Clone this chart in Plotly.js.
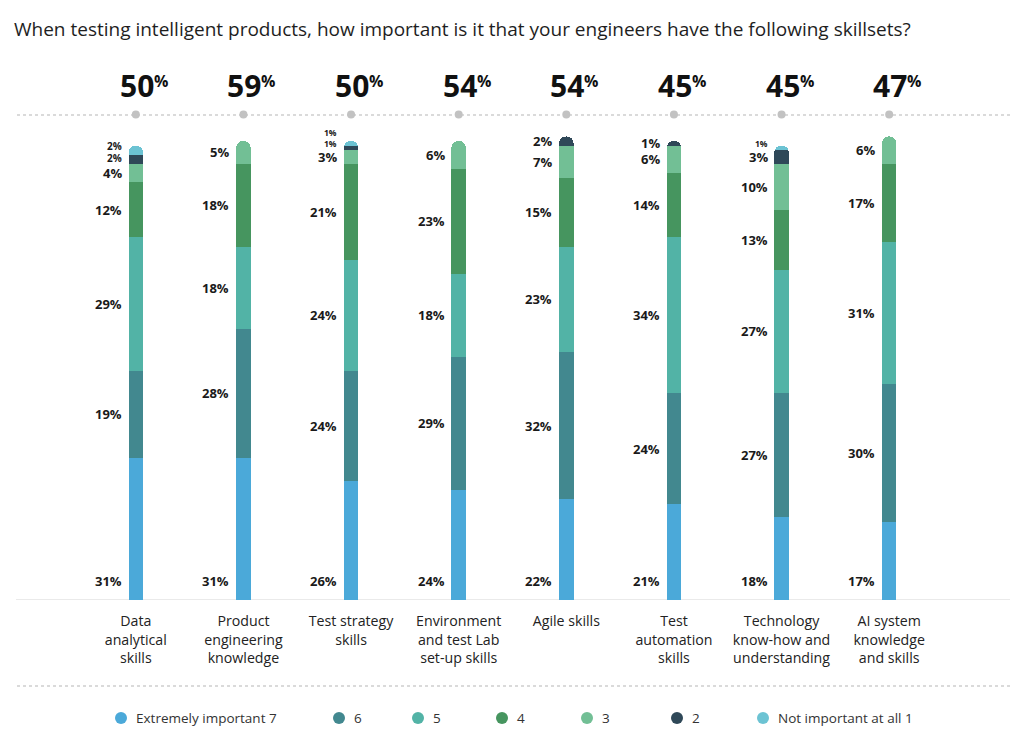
<!DOCTYPE html>
<html>
<head>
<meta charset="utf-8">
<script src="https://cdn.plot.ly/plotly-3.0.1.min.js"></script>
<style>
  html, body { margin: 0; padding: 0; background: #ffffff; }
  #chart { width: 1024px; height: 744px; }
</style>
</head>
<body>
<div id="chart"></div>
<script>
// ---------- DATA ----------
const categories = [
  'Data<br>analytical<br>skills',
  'Product<br>engineering<br>knowledge',
  'Test strategy<br>skills',
  'Environment<br>and test Lab<br>set-up skills',
  'Agile skills',
  'Test<br>automation<br>skills',
  'Technology<br>know-how and<br>understanding',
  'AI system<br>knowledge<br>and skills'
];
const topTotals = [50, 59, 50, 54, 54, 45, 45, 47];

const seriesNames = ['Extremely important 7', '6', '5', '4', '3', '2', 'Not important at all 1'];
const s7 = [31, 31, 26, 24, 22, 21, 18, 17];
const s6 = [19, 28, 24, 29, 32, 24, 27, 30];
const s5 = [29, 18, 24, 18, 23, 34, 27, 31];
const s4 = [12, 18, 21, 23, 15, 14, 13, 17];
const s3 = [4, 5, 3, 6, 7, 6, 10, 6];
const s2 = [2, 0, 1, 0, 2, 1, 3, 0];
const s1 = [2, 0, 1, 0, 0, 0, 1, 0];

const seriesColors = ['#4ba9d9', '#42888f', '#52b3a6', '#46955f', '#72bf95', '#2f4858', '#6cc3d3'];

// ---------- LAYOUT GEOMETRY ----------
const FONT = 'Open Sans, Noto Sans, DejaVu Sans, sans-serif';
const W = 1024, H = 744;
const M = {l: 82, r: 81, t: 132, b: 144};
const plotW = W - M.l - M.r, plotH = H - M.t - M.b;
const axisBottomPx = H - M.b;
const PX_PER_UNIT = 4.59;
const px2paperX = p => (p - M.l) / plotW;
const px2paperY = p => (axisBottomPx - p) / plotH;

const allSeries = [s7, s6, s5, s4, s3, s2, s1];
const xIdx = categories.map((_, i) => i);

const traces = allSeries.map((vals, k) => ({
  type: 'bar',
  x: xIdx,
  y: vals,
  name: seriesNames[k],
  width: 0.135,
  marker: {color: seriesColors[k], line: {width: 0}},
  hoverinfo: 'skip',
  showlegend: false
}));

const annotations = [];
const shapes = [];

// segment labels (with simple bottom-up de-overlap for tiny segments)
xIdx.forEach(i => {
  let cum = 0;
  const vals = allSeries.map(s => s[i]);
  const labels = [];
  vals.forEach((v, k) => {
    const start = cum;
    cum += v;
    if (v <= 0) return;
    const below = k > 0 ? vals[k - 1] : 99;
    const above = k < vals.length - 1 ? vals[k + 1] : 0;
    const small = v <= 2 && (below <= 3 || (above > 0 && above <= 2));
    const size = small ? (v === 1 ? 8.5 : 10) : 13;
    let yUnits = start + v / 2;
    let fixedShift = 0;
    if (k === 0) { yUnits = 0; fixedShift = 19; }
    labels.push({v, k, size, yUnits, fixedShift, pxUp: yUnits * PX_PER_UNIT + fixedShift});
  });
  for (let j = 1; j < labels.length; j++) {
    const a = labels[j - 1], b = labels[j];
    const minGap = a.size === b.size ? a.size * 1.25 : (a.size + b.size) / 2 * 1.3;
    if (b.pxUp - a.pxUp < minGap) b.pxUp = a.pxUp + minGap;
  }
  labels.forEach(L => {
    annotations.push({
      x: i, y: L.yUnits, xref: 'x', yref: 'y',
      text: L.v + '%', showarrow: false,
      xanchor: 'right', yanchor: 'middle',
      xshift: -13, yshift: L.pxUp - L.yUnits * PX_PER_UNIT,
      borderpad: 0,
      font: {family: FONT, size: L.size, color: '#1a1a1a', weight: 700}
    });
  });
});

// top totals
xIdx.forEach(i => {
  annotations.push({
    x: i, y: px2paperY(86), xref: 'x', yref: 'paper',
    text: String(topTotals[i]), showarrow: false,
    xanchor: 'center', yanchor: 'middle', xshift: 1,
    font: {family: FONT, size: 30, color: '#111111', weight: 700}
  });
  annotations.push({
    x: i, y: px2paperY(81), xref: 'x', yref: 'paper',
    text: '%', showarrow: false,
    xanchor: 'left', yanchor: 'middle', xshift: 16,
    font: {family: FONT, size: 16, color: '#111111', weight: 700}
  });
  shapes.push({
    type: 'circle', xref: 'x', yref: 'paper',
    xsizemode: 'pixel', ysizemode: 'pixel',
    xanchor: i, yanchor: px2paperY(114.5),
    x0: -4, x1: 4, y0: -4, y1: 4,
    fillcolor: '#c2c2c2', line: {width: 0}, layer: 'above'
  });
});

// dotted separator lines
[115, 686].forEach(py => {
  shapes.push({
    type: 'line', xref: 'paper', yref: 'paper',
    x0: px2paperX(17), x1: px2paperX(1010),
    y0: px2paperY(py), y1: px2paperY(py),
    line: {color: '#b5b5b5', width: 1, dash: '3px,3px'}, layer: 'below'
  });
});

// baseline
shapes.push({
  type: 'line', xref: 'paper', yref: 'y',
  x0: px2paperX(16), x1: px2paperX(1010), y0: 0, y1: 0,
  line: {color: '#e3e3e3', width: 1.5}, layer: 'below'
});

// manual legend (circle markers)
const legendX = [121, 339, 418, 502, 587, 677, 763];
const legendY = 718;
seriesNames.forEach((name, k) => {
  shapes.push({
    type: 'circle', xref: 'paper', yref: 'paper',
    xsizemode: 'pixel', ysizemode: 'pixel',
    xanchor: px2paperX(legendX[k]), yanchor: px2paperY(legendY),
    x0: -6, x1: 6, y0: -6, y1: 6,
    fillcolor: seriesColors[k], line: {width: 0}
  });
  annotations.push({
    x: px2paperX(legendX[k] + 13), y: px2paperY(legendY),
    xref: 'paper', yref: 'paper', text: name, showarrow: false,
    xanchor: 'left', yanchor: 'middle',
    font: {family: FONT, size: 13.5, color: '#333333'}
  });
});

const layout = {
  width: W, height: H,
  margin: M,
  paper_bgcolor: '#ffffff', plot_bgcolor: '#ffffff',
  barmode: 'stack',
  barcornerradius: 7,
  showlegend: false,
  title: {
    text: 'When testing intelligent products, how important is it that your engineers have the following skillsets?',
    x: 14 / W, xref: 'container', xanchor: 'left',
    y: 1 - 29 / H, yref: 'container', yanchor: 'middle',
    font: {family: FONT, size: 19, color: '#1e1e1e'}
  },
  xaxis: {
    type: 'linear',
    range: [-0.5, categories.length - 0.5],
    tickmode: 'array', tickvals: xIdx, ticktext: categories,
    ticks: '', showline: false, showgrid: false, zeroline: false,
    tickfont: {family: FONT, size: 14.2, color: '#222222'},
    ticklabelstandoff: 11,
    fixedrange: true
  },
  yaxis: {
    range: [0, plotH / PX_PER_UNIT],
    visible: false, showgrid: false, zeroline: false, fixedrange: true
  },
  annotations: annotations,
  shapes: shapes
};

Plotly.newPlot('chart', traces, layout, {displayModeBar: false, staticPlot: true});
</script>
</body>
</html>
